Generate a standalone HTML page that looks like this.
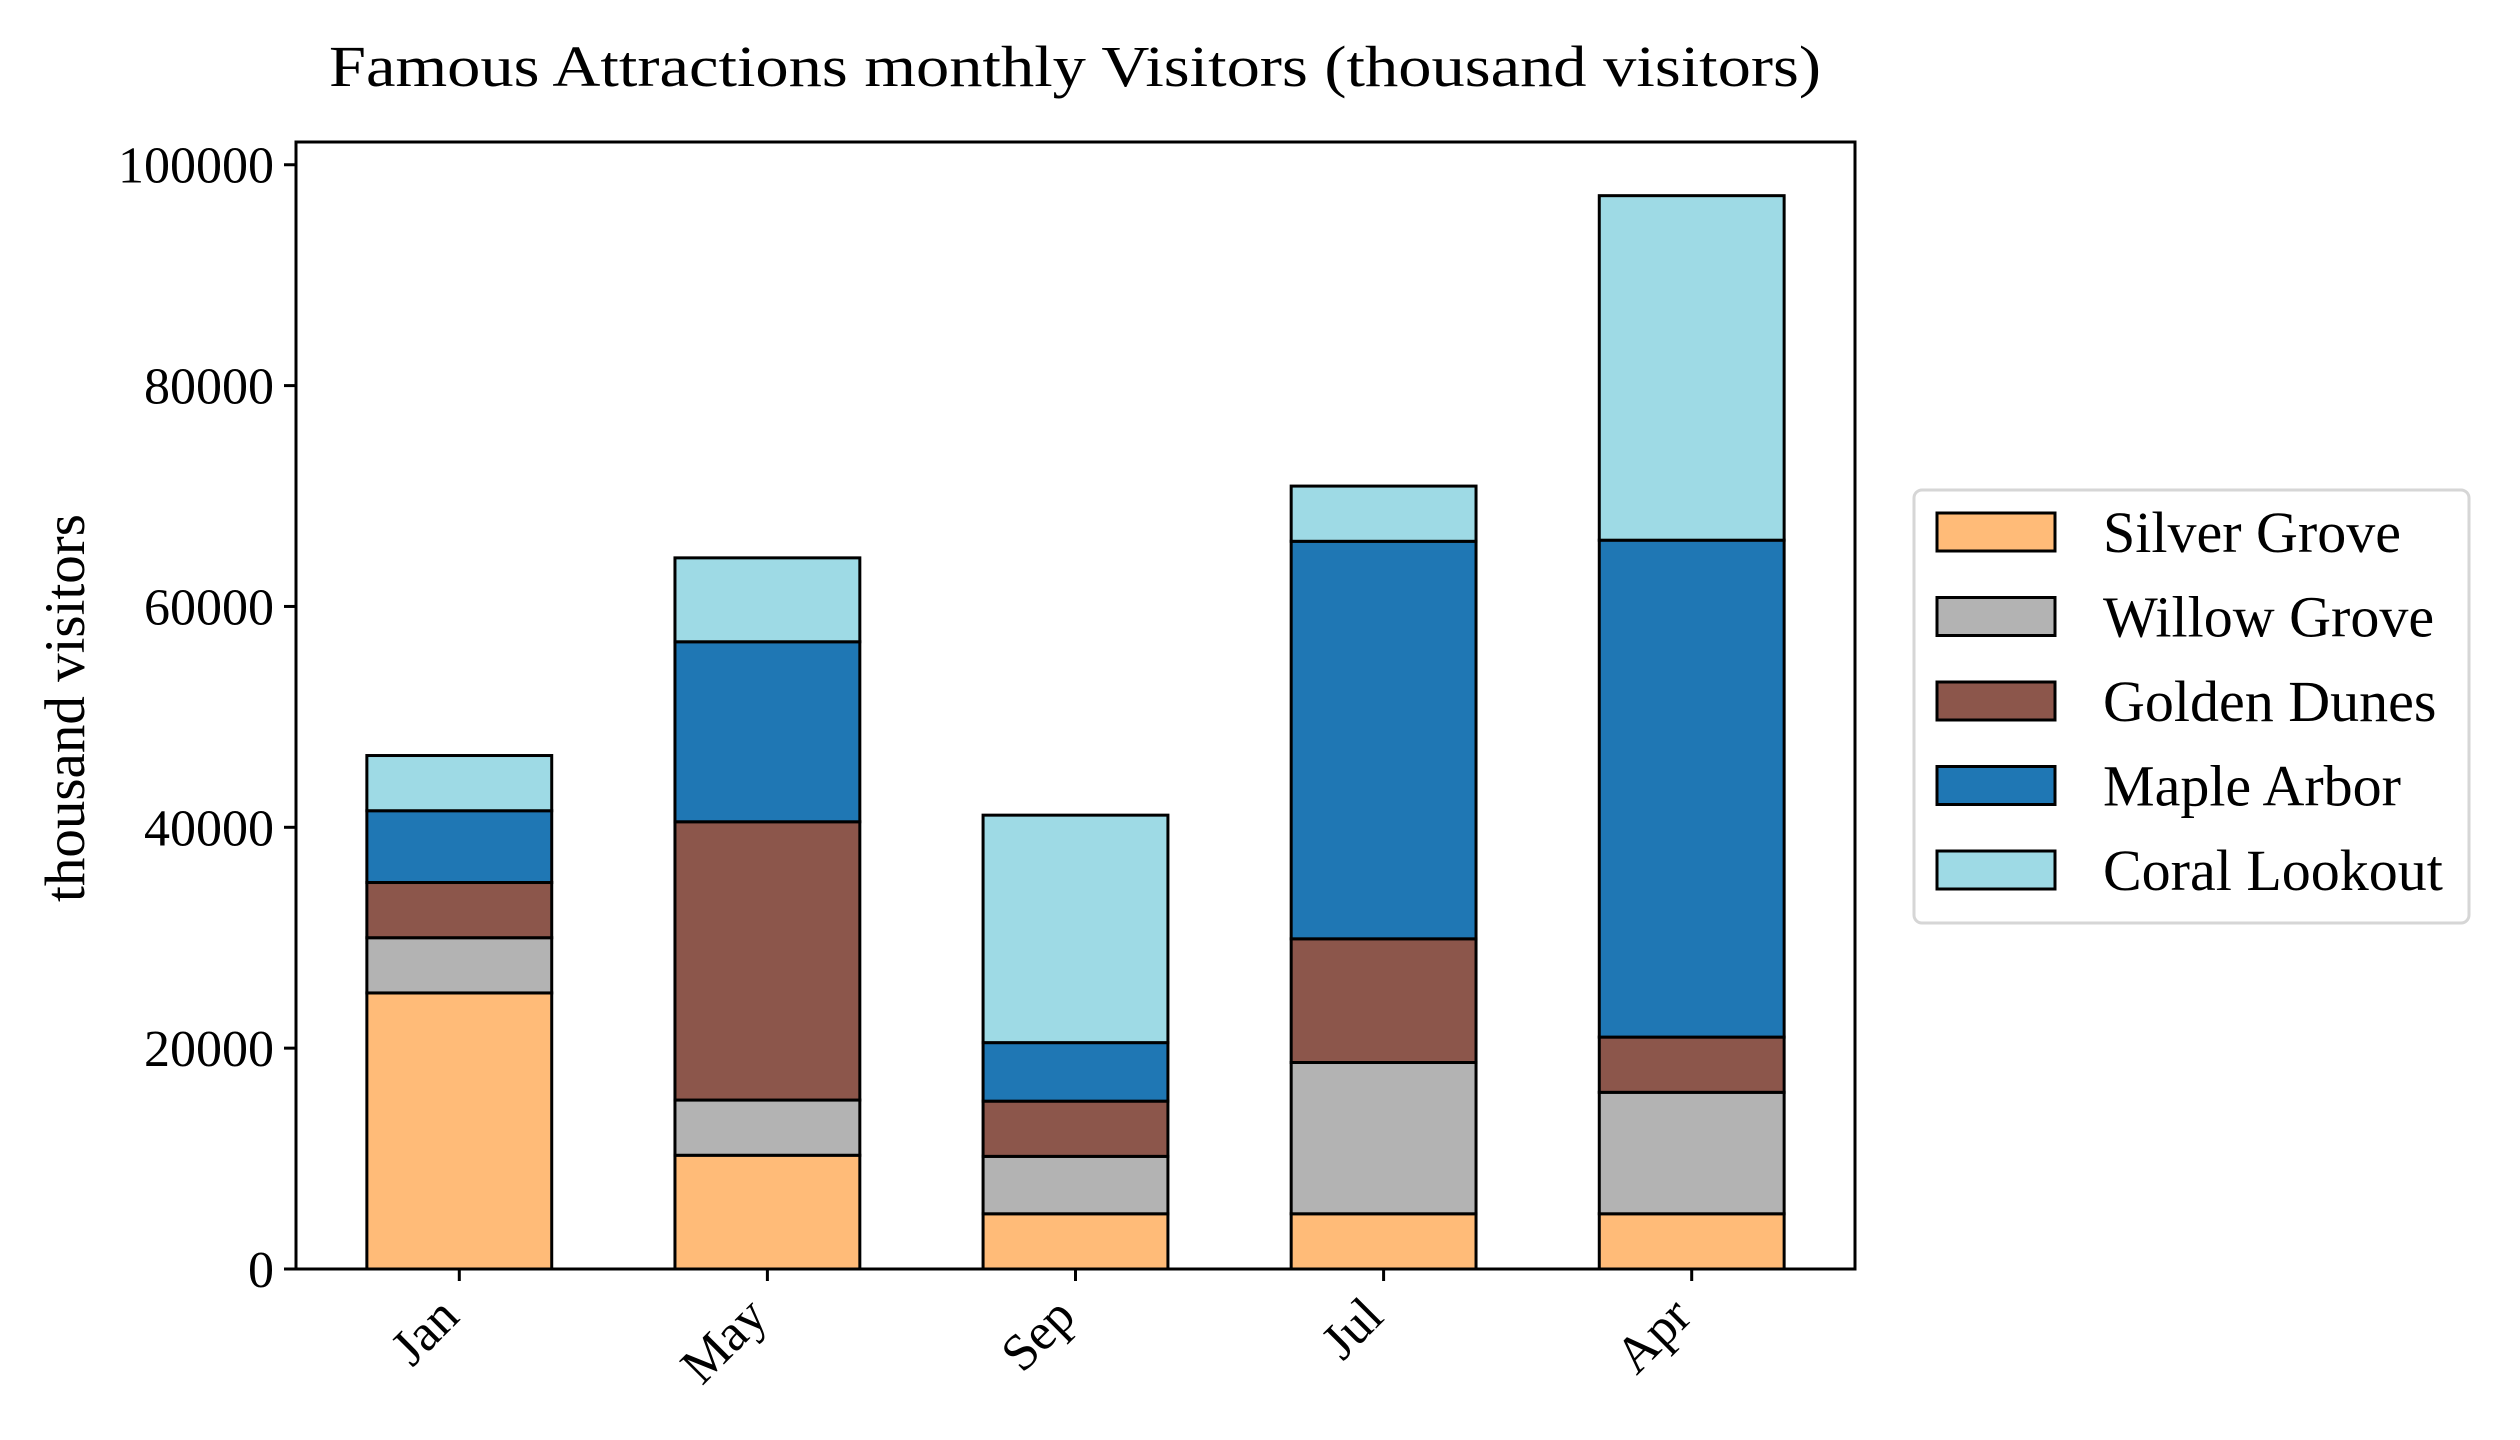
<!DOCTYPE html>
<html><head><meta charset="utf-8"><style>body{margin:0;background:#fff}svg{display:block}text{font-family:"Liberation Serif",serif;fill:#000}</style></head>
<body>
<svg id="chart" width="2520" height="1440" viewBox="0 0 2520 1440" xmlns="http://www.w3.org/2000/svg">
<text x="1075" y="86" font-size="58" text-anchor="middle" textLength="1492" lengthAdjust="spacingAndGlyphs">Famous Attractions monthly Visitors (thousand visitors)</text>
<text transform="translate(84,708) rotate(-90)" font-size="57" text-anchor="middle">thousand visitors</text>
<g id="bars"></g>
<rect x="296" y="142" width="1559" height="1127" fill="none" stroke="#000" stroke-width="3"/>
<g id="axes"></g>
<g>
<rect x="1914" y="490" width="555" height="433" rx="8" fill="#fff" stroke="#d6d6d6" stroke-width="3"/>
<g id="legend"></g>
</g>
</svg>
<script>
const categories = ["Jan","May","Sep","Jul","Apr"];
const seriesNames = ["Silver Grove","Willow Grove","Golden Dunes","Maple Arbor","Coral Lookout"];
const silverGrove = [25000,10300,5000,5000,5000];
const willowGrove = [5000,5000,5200,13700,11000];
const goldenDunes = [5000,25200,5000,11200,5000];
const mapleArbor = [6500,16300,5300,36000,45000];
const coralLookout = [5000,7600,20600,5000,31200];
const yTicks = [0,20000,40000,60000,80000,100000];
const colors = ["#ffbb78","#b3b3b3","#8c564b","#1f77b4","#9edae5"];
const series = [silverGrove,willowGrove,goldenDunes,mapleArbor,coralLookout];
const NS="http://www.w3.org/2000/svg";
const X0=296,X1=1855,Y0=1269,Y1=142;
const xmin=-0.53,xmax=categories.length-1+0.53;
const totals=categories.map((c,i)=>series.reduce((s,a)=>s+a[i],0));
const ymax=Math.max(...totals)*1.05;
const xs=v=>X0+(v-xmin)/(xmax-xmin)*(X1-X0);
const ys=v=>Y0-v/ymax*(Y0-Y1);
const bw=0.6*(xs(1)-xs(0));
function mk(t,a,p){const e=document.createElementNS(NS,t);for(const k in a)e.setAttribute(k,a[k]);p.appendChild(e);return e;}
const bars=document.getElementById('bars');
categories.forEach((c,i)=>{let base=0;series.forEach((s,j)=>{const top=base+s[i];
const r=mk('rect',{x:xs(i)-bw/2,y:ys(top),width:bw,height:ys(base)-ys(top),fill:colors[j],stroke:'#000','stroke-width':3},bars);


base=top;});});
const ax=document.getElementById('axes');
yTicks.forEach(t=>{const y=ys(t);
const l=mk('line',{x1:X0-12,x2:X0,y1:y,y2:y,stroke:'#000','stroke-width':3},ax);


const tx=mk('text',{x:X0-22,y:y+18,'font-size':52,'text-anchor':'end'},ax);
tx.textContent=t;

});
categories.forEach((c,i)=>{const x=xs(i);
const l=mk('line',{x1:x,x2:x,y1:Y0,y2:Y0+12,stroke:'#000','stroke-width':3},ax);


const tx=mk('text',{transform:`translate(${x+2},${Y0+50}) rotate(-45)`,'font-size':52,'text-anchor':'end'},ax);
tx.textContent=c;

});
const lg=document.getElementById('legend');
seriesNames.forEach((n,j)=>{const cy=532+j*84.5;
const r=mk('rect',{x:1937,y:cy-19,width:118,height:38,fill:colors[j],stroke:'#000','stroke-width':3},lg);


const tx=mk('text',{x:2103,y:cy+20,'font-size':58},lg);
tx.textContent=n;

});
</script>
</body></html>
